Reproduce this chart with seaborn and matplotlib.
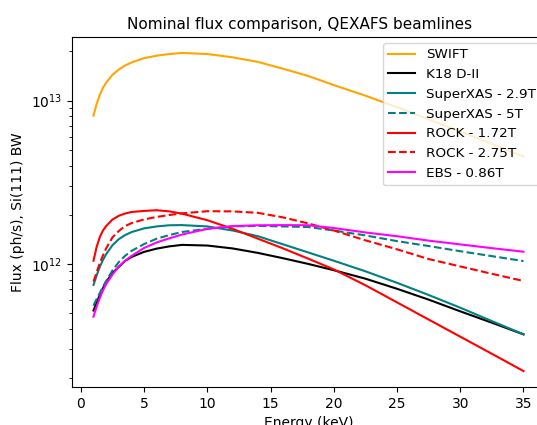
import matplotlib

matplotlib.use("Agg")
import matplotlib.pyplot as plt
import pandas as pd
import seaborn as sns

# photon energy grid (keV)
energy = [1, 1.25, 1.5, 1.75, 2, 2.5, 3, 3.5, 4, 5, 6, 7, 8, 10, 12, 14, 16, 18, 20,
          22.5, 25, 27.5, 30, 32.5, 35]

# flux in units of 1e11 ph/s
swift = [80.9, 95.5, 108.4, 119.7, 128.8, 143.9, 154.9, 164.1, 171.0, 182.0, 188.4, 192.8, 195.9,
         192.8, 184.1, 172.6, 156.7, 141.3, 124.5, 107.2, 91.2, 76.7, 64.6, 54.3, 45.5]
k18_d2 = [5.19, 5.82, 6.46, 7.11, 7.76, 8.81, 9.59, 10.45, 11.04, 11.86, 12.42, 12.82, 13.09,
          12.97, 12.45, 11.69, 10.84, 10.0, 9.16, 8.13, 7.05, 6.05, 5.13, 4.37, 3.71]
superxas_29 = [7.45, 8.51, 9.62, 10.59, 11.48, 13.03, 14.19, 15.03, 15.67, 16.52, 16.98, 17.26, 17.30,
               16.98, 16.03, 14.79, 13.18, 11.75, 10.47, 9.02, 7.67, 6.46, 5.40, 4.47, 3.71]
superxas_5 = [5.56, 6.10, 6.64, 7.28, 7.87, 9.12, 10.28, 11.22, 12.02, 13.24, 14.29, 15.03, 15.70,
              16.41, 16.98, 17.10, 16.98, 16.83, 16.03, 14.96, 13.80, 12.88, 11.97, 11.17, 10.42]
rock_172 = [10.47, 12.74, 14.62, 16.03, 17.06, 18.71, 19.72, 20.37, 20.80, 21.13, 21.33, 20.99, 20.32,
            18.54, 16.41, 14.29, 12.45, 10.76, 9.27, 7.41, 5.82, 4.57, 3.59, 2.82, 2.21]
rock_275 = [7.80, 8.91, 10.12, 11.30, 12.45, 14.55, 15.92, 17.06, 17.78, 18.75, 19.41, 19.95, 20.42,
            21.04, 20.99, 20.56, 19.28, 17.70, 16.03, 13.96, 12.30, 10.72, 9.66, 8.71, 7.87]
ebs_086 = [4.76, 5.50, 6.19, 6.89, 7.53, 8.61, 9.66, 10.47, 11.19, 12.53, 13.55, 14.36, 15.14,
           16.41, 17.06, 17.26, 17.30, 17.26, 16.60, 15.60, 14.79, 13.90, 13.18, 12.50, 11.89]

labels = ["SWIFT", "K18 D-II", "SuperXAS - 2.9T", "SuperXAS - 5T",
          "ROCK - 1.72T", "ROCK - 2.75T", "EBS - 0.86T"]
series = [swift, k18_d2, superxas_29, superxas_5, rock_172, rock_275, ebs_086]
colors = ["orange", "black", "teal", "teal", "red", "red", "magenta"]
dashes = ["-", "-", "-", "--", "-", "--", "-"]

fig = plt.figure(figsize=(5.37, 4.25), dpi=100)
ax = fig.add_axes([72 / 537, 38 / 425, 473 / 537, 350 / 425])

for label, values, color, ls in zip(labels, series, colors, dashes):
    df = pd.DataFrame({"energy": energy, "flux": [v * 1e11 for v in values]})
    sns.lineplot(data=df, x="energy", y="flux", ax=ax, color=color, linestyle=ls,
                 linewidth=1.5, label=label)

ax.set_yscale("log")
ax.set_xlabel("Energy (keV)")
ax.set_ylabel("Flux (ph/s), Si(111) BW")
ax.set_title("Nominal flux comparison, QEXAFS beamlines", fontsize=11, x=(300 - 72) / 473)
ax.legend(loc="upper left", bbox_to_anchor=((383 - 72) / 473, (387 - 43) / 350),
          borderaxespad=0, fontsize=9.7)

fig.savefig("out.png", dpi=100)
plt.close(fig)
